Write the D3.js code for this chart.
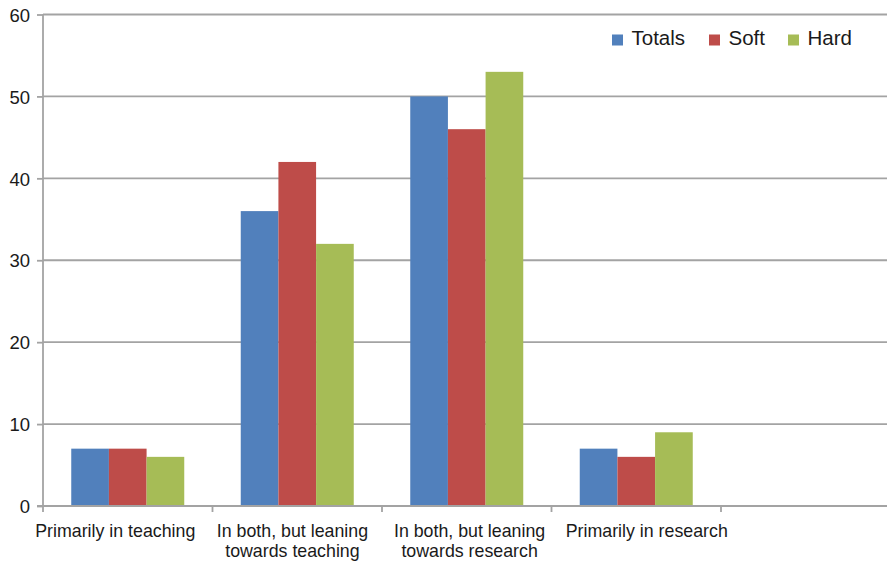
<!DOCTYPE html>
<html>
<head>
<meta charset="utf-8">
<script src="https://cdn.jsdelivr.net/npm/d3@7"></script>
<style>
  html, body { margin: 0; padding: 0; background: #fff; }
  svg { display: block; font-family: "Liberation Sans", Arial, sans-serif; }
</style>
</head>
<body>
<svg id="chart" width="887" height="562"></svg>
<script>
// Category labels (the fifth slot is left empty)
const categories = [
  ["Primarily in teaching"],
  ["In both, but leaning", "towards teaching"],
  ["In both, but leaning", "towards research"],
  ["Primarily in research"],
  [""]
];
const seriesNames = ["Totals", "Soft", "Hard"];
const totals = [7, 36, 50, 7, null];
const soft   = [7, 42, 46, 6, null];
const hard   = [6, 32, 53, 9, null];
const yTicks = [0, 10, 20, 30, 40, 50, 60];
const colors = ["#5180BC", "#BE4C49", "#A6BC56"];

const series = [totals, soft, hard];
const svg = d3.select("#chart");

const plotLeft = 43, plotRight = 890.5, plotTop = 14.5, plotBottom = 506;

const x = d3.scaleBand()
  .domain(d3.range(categories.length))
  .range([plotLeft, plotRight])
  .paddingInner(0).paddingOuter(0);

const inner = d3.scaleBand()
  .domain(d3.range(series.length))
  .range([x.bandwidth() / 6, x.bandwidth() * 5 / 6]);

const y = d3.scaleLinear().domain([0, 60]).range([plotBottom, plotTop]);

// Horizontal gridlines
svg.append("g")
  .selectAll("line")
  .data(yTicks.filter(d => d > 0))
  .join("line")
  .attr("x1", plotLeft).attr("x2", 887)
  .attr("y1", d => y(d)).attr("y2", d => y(d))
  .attr("stroke", "#a3a3a3").attr("stroke-width", 1.8);

// Bars
const groups = svg.append("g")
  .selectAll("g")
  .data(series)
  .join("g")
  .attr("fill", (d, i) => colors[i]);

groups.each(function (vals, si) {
  d3.select(this).selectAll("rect")
    .data(vals.map((v, ci) => ({ v, ci })).filter(d => d.v != null))
    .join("rect")
    .attr("x", d => x(d.ci) + inner(si))
    .attr("width", inner.bandwidth())
    .attr("y", d => y(d.v))
    .attr("height", d => y(0) - y(d.v));
});

// Y axis
const yAxis = d3.axisLeft(y).tickValues(yTicks).tickSize(6).tickPadding(7);
const gy = svg.append("g").attr("transform", `translate(${plotLeft},0)`).call(yAxis);
gy.select(".domain").remove();
gy.selectAll(".tick line").attr("stroke", "#a3a3a3").attr("stroke-width", 1.8);
gy.selectAll(".tick text")
  .attr("font-size", 18.5).attr("fill", "#1a1a1a")
  .attr("font-family", "Liberation Sans, Arial, sans-serif")
  .attr("dy", "0.36em");
svg.append("line")
  .attr("x1", plotLeft).attr("x2", plotLeft)
  .attr("y1", plotTop).attr("y2", plotBottom + 6)
  .attr("stroke", "#a3a3a3").attr("stroke-width", 1.8);

// X axis baseline and category separators
svg.append("line")
  .attr("x1", plotLeft - 6).attr("x2", 887)
  .attr("y1", plotBottom).attr("y2", plotBottom)
  .attr("stroke", "#a3a3a3").attr("stroke-width", 1.8);
svg.append("g")
  .selectAll("line")
  .data(d3.range(1, categories.length))
  .join("line")
  .attr("x1", d => x(d)).attr("x2", d => x(d))
  .attr("y1", plotBottom).attr("y2", plotBottom + 6)
  .attr("stroke", "#a3a3a3").attr("stroke-width", 1.8);

// Category labels
const labelX = d3.scaleLinear().domain([0, 3])
  .range([x(0) + x.bandwidth() / 2 - 12.5, x(3) + x.bandwidth() / 2 + 10.5]);
svg.append("g")
  .selectAll("text")
  .data(categories)
  .join("text")
  .attr("text-anchor", "middle")
  .attr("font-size", 17.8)
  .attr("fill", "#1a1a1a")
  .attr("transform", (d, i) => `translate(${labelX(i)},536.5)`)
  .selectAll("tspan")
  .data(d => d)
  .join("tspan")
  .attr("x", 0)
  .attr("y", (d, i) => i * 20.5)
  .text(d => d);

// Legend
const legendX = [612, 709, 788];
const legend = svg.append("g")
  .selectAll("g")
  .data(seriesNames)
  .join("g")
  .attr("transform", (d, i) => `translate(${legendX[i]},34.5)`);
legend.append("rect")
  .attr("width", 11).attr("height", 11)
  .attr("fill", (d, i) => colors[i]);
legend.append("text")
  .attr("x", 19.5).attr("y", 10)
  .attr("font-size", 20.5)
  .attr("fill", "#1a1a1a")
  .text(d => d);
</script>
</body>
</html>
